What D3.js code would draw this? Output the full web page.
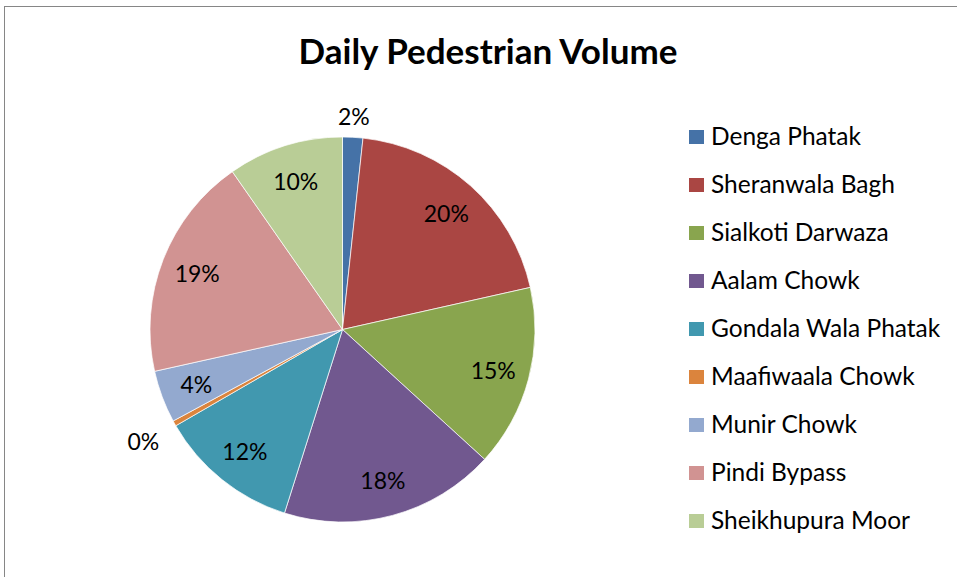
<!DOCTYPE html>
<html>
<head>
<meta charset="utf-8">
<script src="https://cdn.jsdelivr.net/npm/d3@7"></script>
<style>
  body { margin: 0; background: #fff; }
  svg { font-family: Lato, 'Open Sans', sans-serif; }
  .title { font-weight: bold; font-size: 35px; }
  .label { font-size: 23px; fill: #000; }
  .legend text { font-size: 24.5px; fill: #000; }
</style>
</head>
<body>
<svg width="957" height="577"></svg>
<script>
const places = ['Denga Phatak', 'Sheranwala Bagh', 'Sialkoti Darwaza', 'Aalam Chowk',
  'Gondala Wala Phatak', 'Maafiwaala Chowk', 'Munir Chowk', 'Pindi Bypass', 'Sheikhupura Moor'];
const volumes = [1.7, 19.8, 15.3, 18.1, 11.8, 0.45, 4.4, 18.8, 9.7];
const colors = ['#4572a7', '#aa4643', '#89a54e', '#71588f', '#4198af',
  '#db843d', '#93a9cf', '#d19392', '#b9cd96'];

const data = places.map((p, i) => ({ place: p, value: volumes[i], color: colors[i] }));

const svg = d3.select('svg');

// chart frame (runs off the right and bottom edge)
svg.append('rect')
  .attr('x', 4.5)
  .attr('y', 6.5)
  .attr('width', 1000)
  .attr('height', 1000)
  .attr('fill', 'none')
  .attr('stroke', '#868686');

svg.append('text')
  .attr('class', 'title')
  .attr('x', 488)
  .attr('y', 64)
  .attr('text-anchor', 'middle')
  .text('Daily Pedestrian Volume');

const cx = 342.5;
const cy = 329.5;
const radius = 192.5;

const total = d3.sum(data, (d) => d.value);
const pct = d3.format('.0%');

const pie = d3.pie()
  .sort(null)
  .value((d) => d.value);

const arc = d3.arc()
  .innerRadius(0)
  .outerRadius(radius);

const chart = svg.append('g')
  .attr('transform', `translate(${cx}, ${cy})`);

const slices = pie(data);

chart.selectAll('path')
  .data(slices)
  .enter()
  .append('path')
  .attr('d', arc)
  .attr('fill', (d) => d.data.color)
  .attr('stroke', '#fff')
  .attr('stroke-width', 0.7);

// labels: inside for big slices, outside for tiny ones
chart.selectAll('.label')
  .data(slices)
  .enter()
  .append('text')
  .attr('class', 'label')
  .attr('text-anchor', 'middle')
  .attr('dominant-baseline', 'central')
  .attr('transform', (d) => {
    const a = (d.startAngle + d.endAngle) / 2;
    const share = d.data.value / total;
    let r = radius * 0.81;
    if (share < 0.03) r = radius + 20 + 18 * Math.abs(Math.sin(a));
    return `translate(${Math.sin(a) * r}, ${-Math.cos(a) * r})`;
  })
  .text((d) => pct(d.data.value / total));

const legend = svg.append('g')
  .attr('class', 'legend');

const rows = legend.selectAll('g')
  .data(data)
  .enter()
  .append('g')
  .attr('transform', (d, i) => `translate(689, ${137 + i * 48})`);

rows.append('rect')
  .attr('x', 0)
  .attr('y', -7)
  .attr('width', 15)
  .attr('height', 14)
  .attr('fill', (d) => d.color);

rows.append('text')
  .attr('x', 22)
  .attr('y', 7.5)
  .text((d) => d.place);
</script>
</body>
</html>
